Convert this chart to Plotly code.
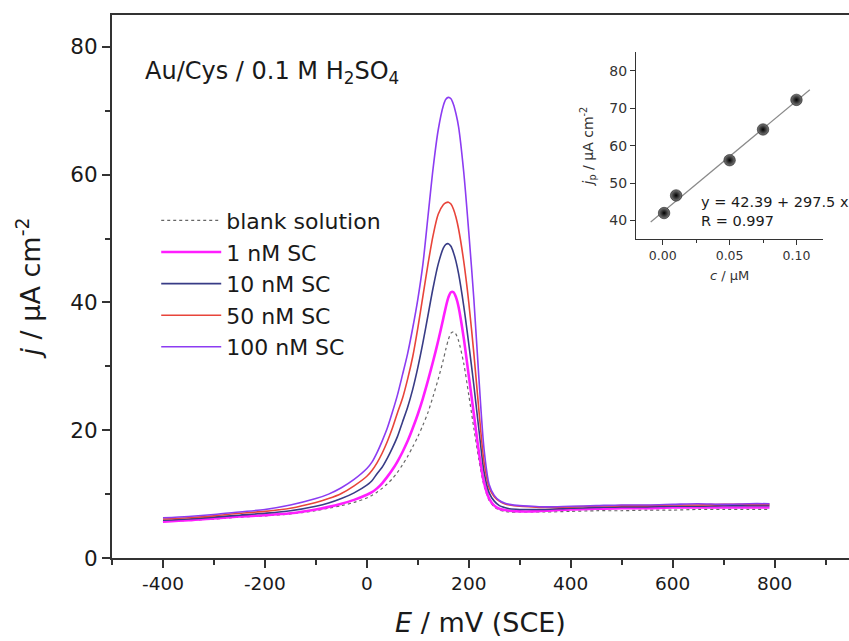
import plotly.graph_objects as go

# ---------------- data ----------------
E_mV = [-400, -350, -300, -250, -200, -150, -100, -75, -50, -25, 0, 10, 20, 30, 40, 50, 60, 70, 80, 90,
        100, 110, 120, 130, 140, 150, 155, 160, 165, 170, 175, 180, 190, 200, 210, 220, 230, 240, 250,
        260, 270, 280, 300, 325, 350, 400, 450, 500, 550, 600, 650, 700, 750, 790]

j_blank = [5.7, 5.9, 6.1, 6.4, 6.6, 6.9, 7.4, 7.8, 8.2, 8.7, 9.4, 9.8, 10.3, 10.9, 11.6, 12.4, 13.4, 14.6, 15.9, 17.4,
           19.0, 20.8, 22.8, 25.3, 28.0, 31.0, 32.7, 34.2, 35.2, 35.4, 35.0, 34.0, 30.5, 25.5, 20.3, 15.3, 11.3, 9.0, 8.0,
           7.5, 7.3, 7.2, 7.2, 7.2, 7.2, 7.3, 7.4, 7.4, 7.5, 7.5, 7.6, 7.6, 7.6, 7.6]
j_1nM = [5.7, 5.9, 6.2, 6.5, 6.7, 7.0, 7.6, 8.0, 8.5, 9.1, 9.9, 10.3, 10.9, 11.7, 12.7, 13.8, 15.1, 16.6, 18.3, 20.3,
         22.5, 25.0, 27.8, 30.8, 34.0, 37.5, 39.3, 40.8, 41.6, 41.6, 40.8, 39.3, 34.5, 28.5, 22.5, 16.5, 11.8, 9.3, 8.2,
         7.7, 7.5, 7.4, 7.3, 7.3, 7.4, 7.6, 7.7, 7.8, 7.8, 7.9, 7.9, 7.9, 7.9, 7.9]
j_10nM = [5.9, 6.1, 6.4, 6.7, 7.0, 7.4, 8.1, 8.6, 9.3, 10.2, 11.4, 12.1, 13.2, 14.2, 15.6, 17.2, 19.0, 21.3, 23.6, 26.4,
          29.8, 33.7, 38.0, 42.3, 46.0, 48.5, 49.1, 49.2, 48.8, 47.8, 46.4, 44.5, 39.5, 33.5, 27.0, 20.0, 13.5, 10.2, 8.9,
          8.2, 7.9, 7.7, 7.6, 7.6, 7.6, 7.8, 7.9, 8.0, 8.0, 8.1, 8.1, 8.2, 8.2, 8.2]
j_50nM = [6.1, 6.3, 6.6, 7.0, 7.3, 7.8, 8.7, 9.3, 10.1, 11.3, 12.8, 13.7, 14.9, 16.4, 18.2, 20.3, 22.7, 25.0, 28.0, 31.5,
          36.0, 41.0, 46.0, 50.5, 53.8, 55.3, 55.6, 55.7, 55.4, 54.6, 53.3, 51.5, 46.5, 40.0, 32.0, 23.0, 15.0, 11.0, 9.6,
          8.9, 8.5, 8.3, 8.1, 8.0, 7.9, 8.0, 8.1, 8.2, 8.2, 8.3, 8.3, 8.4, 8.4, 8.4]
j_100nM = [6.3, 6.5, 6.8, 7.2, 7.6, 8.3, 9.3, 10.0, 11.0, 12.3, 14.0, 15.0, 16.5, 18.3, 20.3, 22.8, 25.5, 28.7, 32.0, 36.0,
           40.5, 46.0, 53.5, 61.0, 67.0, 70.8, 71.8, 72.1, 71.9, 71.0, 69.5, 67.5, 60.5, 51.0, 40.5, 28.0, 17.0, 11.5, 9.8,
           9.0, 8.6, 8.4, 8.2, 8.1, 8.0, 8.1, 8.2, 8.3, 8.3, 8.4, 8.5, 8.4, 8.5, 8.5]

series_names = ["blank solution", "1 nM SC", "10 nM SC", "50 nM SC", "100 nM SC"]
series_values = [j_blank, j_1nM, j_10nM, j_50nM, j_100nM]

# inset calibration data
c_uM = [0.001, 0.01, 0.05, 0.075, 0.1]
jp = [42.0, 46.7, 56.1, 64.3, 72.2]
fit_c = [-0.009, 0.110]
fit_jp = [39.6, 74.9]

x_ticks_main = [-400, -200, 0, 200, 400, 600, 800]
x_ticklabels_main = ["-400", "-200", "0", "200", "400", "600", "800"]
y_ticks_main = [0, 20, 40, 60, 80]
x_ticks_inset = [0.00, 0.05, 0.10]
x_ticklabels_inset = ["0.00", "0.05", "0.10"]
y_ticks_inset = [40, 50, 60, 70, 80]

# ---------------- styling ----------------
FONT = "DejaVu Sans, Liberation Sans, Arial, sans-serif"
AX = "#333333"
TXT = "#1a1a1a"
styles = [
    dict(color="#666666", width=1.2, dash="dot"),
    dict(color="#FF1EFF", width=2.6, dash="solid"),
    dict(color="#383C86", width=1.6, dash="solid"),
    dict(color="#E8443A", width=1.6, dash="solid"),
    dict(color="#8C3CF2", width=1.6, dash="solid"),
]

fig = go.Figure()
for name, vals, st in zip(series_names, series_values, styles):
    fig.add_trace(go.Scatter(x=E_mV, y=vals, mode="lines", name=name,
                             line=dict(shape="spline", smoothing=0.8, **st)))

fig.add_trace(go.Scatter(x=fit_c, y=fit_jp, mode="lines", xaxis="x2", yaxis="y2",
                         line=dict(color="#8a8a8a", width=1.2), showlegend=False))
fig.add_trace(go.Scatter(x=c_uM, y=jp, mode="markers", xaxis="x2", yaxis="y2",
                         marker=dict(size=11.5, color="#7a7a7a",
                                     gradient=dict(type="radial", color="#000000"),
                                     line=dict(width=0.5, color="#000")),
                         showlegend=False))

W, H = 849, 641
L, R, T, B = 112, 0, 15, 83

fig.update_layout(
    width=W, height=H,
    margin=dict(l=L, r=R, t=T, b=B),
    paper_bgcolor="white", plot_bgcolor="white",
    font=dict(family=FONT, color=TXT),
    showlegend=True,
    legend=dict(x=0.06, y=0.66, xanchor="left", yanchor="top",
                font=dict(size=22, family=FONT, color=TXT),
                bgcolor="rgba(0,0,0,0)", tracegroupgap=0, itemwidth=60),
    xaxis=dict(range=[-500, 946], tickvals=x_ticks_main, ticktext=x_ticklabels_main,
               ticks="outside", ticklen=8, tickwidth=1.5,
               tickcolor=AX, showline=True, linecolor=AX, linewidth=2, mirror=True,
               showgrid=False, zeroline=False,
               minor=dict(dtick=100, tick0=0, ticks="outside", ticklen=5, tickcolor=AX, tickwidth=1.5),
               tickfont=dict(size=18.5, color=TXT),
               title=dict(text="<i>E</i> / mV (SCE)", font=dict(size=27, color=TXT), standoff=20)),
    yaxis=dict(range=[0, 85], tickvals=y_ticks_main, ticks="outside", ticklen=8, tickwidth=1.5,
               tickcolor=AX, showline=True, linecolor=AX, linewidth=2, mirror=False,
               showgrid=False, zeroline=False,
               minor=dict(dtick=10, tick0=0, ticks="outside", ticklen=5, tickcolor=AX, tickwidth=1.5),
               tickfont=dict(size=21.5, color=TXT),
               title=dict(text="<i>j</i> / µA cm<sup>-2</sup>", font=dict(size=27, color=TXT), standoff=22)),
    xaxis2=dict(domain=[0.711, 0.965], anchor="y2", range=[-0.02, 0.12],
                tickvals=x_ticks_inset, ticktext=x_ticklabels_inset,
                ticks="outside", ticklen=5, tickwidth=1, tickcolor=AX,
                showline=True, linecolor=AX, linewidth=1.3, mirror=False,
                showgrid=False, zeroline=False,
                minor=dict(dtick=0.025, tick0=0, ticks="outside", ticklen=3, tickcolor=AX),
                tickfont=dict(size=12.5, color="#333"),
                title=dict(text="<i>c</i> / µM", font=dict(size=13, color="#333"), standoff=8)),
    yaxis2=dict(domain=[0.587, 0.932], anchor="x2", range=[35, 85], tickvals=y_ticks_inset,
                ticks="outside", ticklen=5, tickwidth=1, tickcolor=AX,
                showline=True, linecolor=AX, linewidth=1.3, mirror=False,
                showgrid=False, zeroline=False,
                tickfont=dict(size=14, color="#333"),
                title=dict(text="<i>j</i><sub>p</sub> / µA cm<sup>-2</sup>", font=dict(size=14, color="#333"), standoff=12)),
    annotations=[
        dict(text="Au/Cys / 0.1 M H<sub>2</sub>SO<sub>4</sub>", xref="paper", yref="paper",
             x=0.042, y=0.895, xanchor="left", yanchor="middle", showarrow=False,
             font=dict(size=24, color=TXT, family=FONT)),
        dict(text="y = 42.39 + 297.5 x<br>R = 0.997", xref="x2", yref="y2",
             x=0.027, y=42.3, xanchor="left", yanchor="middle", showarrow=False, align="left",
             font=dict(size=14.5, color=TXT, family=FONT)),
    ],
)

fig.write_html("out.html")
